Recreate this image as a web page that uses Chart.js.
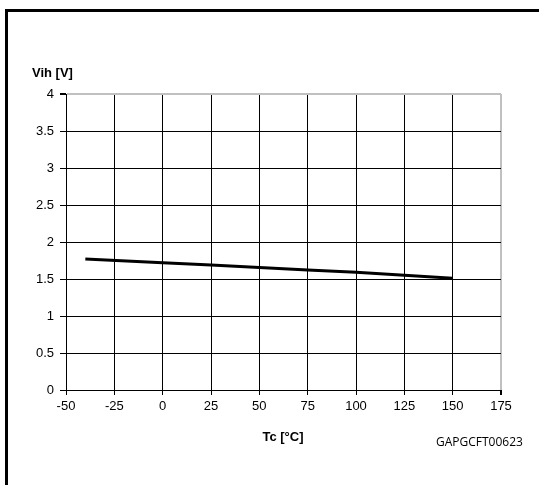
<!DOCTYPE html>
<html>
<head>
    <meta charset="utf-8">
    <script src="https://cdn.jsdelivr.net/npm/chart.js@4.4.1/dist/chart.umd.min.js"></script>
    <style>
        html, body { margin: 0; padding: 0; background: #fff; overflow: hidden; }
        canvas { display: block; }
    </style>
</head>
<body>
<canvas id="myChart" width="539" height="485"></canvas>

<script>
    // values
    var temps = [-40, 0, 25, 50, 75, 100, 125, 150];
    var vih = [1.77, 1.72, 1.69, 1.655, 1.62, 1.59, 1.55, 1.51];
    var xTicks = [-50, -25, 0, 25, 50, 75, 100, 125, 150, 175];
    var yTicks = [0, 0.5, 1, 1.5, 2, 2.5, 3, 3.5, 4];

    var points = [];
    for (var i = 0; i < temps.length; i++)
        points.push({x: temps[i], y: vih[i]});

    // frame, axis titles and the figure code
    var decorations = {
        id: 'decorations',
        beforeDraw: function (chart) {
            var ctx = chart.ctx;
            ctx.save();
            ctx.fillStyle = '#fff';
            ctx.fillRect(0, 0, chart.width, chart.height);
            ctx.restore();
        },
        afterDraw: function (chart) {
            var ctx = chart.ctx;
            ctx.save();
            ctx.fillStyle = '#000';
            // frame: only the top and left edges are inside the picture
            ctx.fillRect(5, 9, 534, 3);
            ctx.fillRect(5, 9, 3, 476);

            ctx.textBaseline = 'alphabetic';
            ctx.font = 'bold 13px "Liberation Sans", Arial, sans-serif';
            ctx.textAlign = 'left';
            ctx.fillText('Vih [V]', 32, 77);
            ctx.textAlign = 'center';
            ctx.fillText('Tc [°C]', 283, 441);
            ctx.font = '12px "Open Sans", sans-serif';
            ctx.textAlign = 'left';
            ctx.fillText('GAPGCFT00623', 436, 446);
            ctx.restore();
        }
    };

    var ctx = document.getElementById("myChart");
    var myChart = new Chart(ctx, {
        type: 'line',
        data: {
            datasets: [{
                data: points,
                borderColor: '#000',
                borderWidth: 3,
                pointRadius: 0,
                fill: false,
                tension: 0
            }]
        },
        options: {
            responsive: false,
            animation: false,
            layout: {
                padding: {left: 0, right: 38, top: 94, bottom: 0}
            },
            plugins: {
                legend: {display: false},
                tooltip: {enabled: false}
            },
            scales: {
                x: {
                    type: 'linear',
                    min: -50,
                    max: 175,
                    afterBuildTicks: function (scale) {
                        scale.ticks = xTicks.map(function (v) { return {value: v}; });
                    },
                    afterFit: function (scale) { scale.height = 95; },
                    border: {color: '#000', width: 1},
                    grid: {
                        color: function (c) { return c.tick && c.tick.value === 175 ? '#c0c0c0' : '#000'; },
                        lineWidth: function (c) { return c.tick && c.tick.value === 175 ? 2 : 1; },
                        tickColor: '#000',
                        tickLength: 5
                    },
                    ticks: {
                        color: '#000',
                        padding: 4,
                        maxRotation: 0,
                        callback: function (v) { return String(v); },
                        font: {family: '"Liberation Sans", Arial, sans-serif', size: 13}
                    }
                },
                y: {
                    min: 0,
                    max: 4,
                    afterBuildTicks: function (scale) {
                        scale.ticks = yTicks.map(function (v) { return {value: v}; });
                    },
                    afterFit: function (scale) { scale.width = 66; },
                    border: {color: '#000', width: 1},
                    grid: {
                        color: function (c) { return c.tick && c.tick.value === 4 ? '#c0c0c0' : '#000'; },
                        lineWidth: function (c) { return c.tick && c.tick.value === 4 ? 2 : 1; },
                        tickColor: '#000',
                        tickLength: 6
                    },
                    ticks: {
                        color: '#000',
                        padding: 6,
                        callback: function (v) { return String(v); },
                        font: {family: '"Liberation Sans", Arial, sans-serif', size: 13}
                    }
                }
            }
        },
        plugins: [decorations]
    });
</script>
</body>
</html>
